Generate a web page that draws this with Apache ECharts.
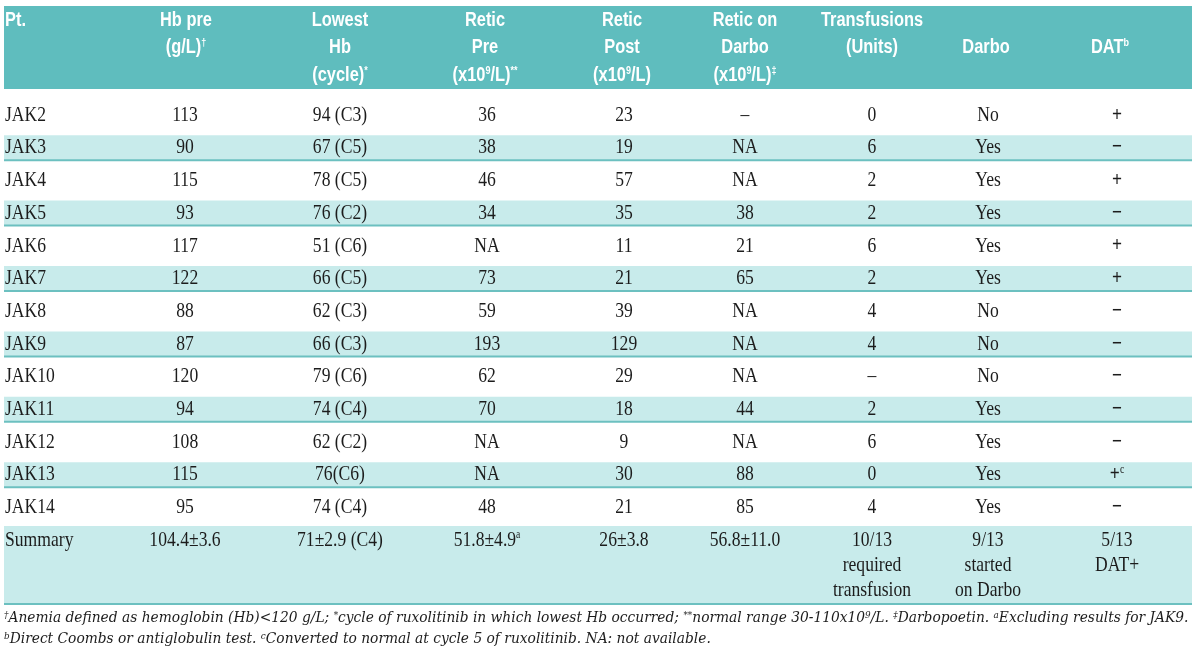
<!DOCTYPE html>
<html>
<head>
<meta charset="utf-8">
<title>Anemia table</title>
<script src="https://cdn.jsdelivr.net/npm/echarts@6/dist/echarts.min.js"></script>
<style>
    html, body { margin: 0; padding: 0; background: #fff; }
    #chart { width: 1200px; height: 654px; }
</style>
</head>
<body>
<div id="chart"></div>
<script>
// 表格数据
const patients = ['JAK2', 'JAK3', 'JAK4', 'JAK5', 'JAK6', 'JAK7', 'JAK8', 'JAK9', 'JAK10', 'JAK11', 'JAK12', 'JAK13', 'JAK14'];
const hbPre = ['113', '90', '115', '93', '117', '122', '88', '87', '120', '94', '108', '115', '95'];
const lowestHb = ['94 (C3)', '67 (C5)', '78 (C5)', '76 (C2)', '51 (C6)', '66 (C5)', '62 (C3)', '66 (C3)', '79 (C6)', '74 (C4)', '62 (C2)', '76(C6)', '74 (C4)'];
const reticPre = ['36', '38', '46', '34', 'NA', '73', '59', '193', '62', '70', 'NA', 'NA', '48'];
const reticPost = ['23', '19', '57', '35', '11', '21', '39', '129', '29', '18', '9', '30', '21'];
const reticDarbo = ['–', 'NA', 'NA', '38', '21', '65', 'NA', 'NA', 'NA', '44', 'NA', '88', '85'];
const transfusions = ['0', '6', '2', '2', '6', '2', '4', '4', '–', '2', '6', '0', '4'];
const darbo = ['No', 'Yes', 'Yes', 'Yes', 'Yes', 'Yes', 'No', 'No', 'No', 'Yes', 'Yes', 'Yes', 'Yes'];
const dat = ['+', '−', '+', '−', '+', '+', '−', '−', '−', '−', '−', '+{s|c}', '−'];

const summary = ['Summary', '104.4±3.6', '71±2.9 (C4)', '51.8±4.9{s|a}', '26±3.8', '56.8±11.0',
    '10/13\nrequired\ntransfusion', '9/13\nstarted\non Darbo', '5/13\nDAT+'];

const headers = [
    ['Pt.'],
    ['Hb pre', '(g/L){s|†}'],
    ['Lowest', 'Hb', '(cycle){s|*}'],
    ['Retic', 'Pre', '(x10{s|9}/L){s|**}'],
    ['Retic', 'Post', '(x10{s|9}/L)'],
    ['Retic on', 'Darbo', '(x10{s|9}/L){s|‡}'],
    ['Transfusions', '(Units)'],
    ['', 'Darbo'],
    ['', 'DAT{s|b}'],
];

const footnotes = [
    '{s|†}Anemia defined as hemoglobin (Hb)<120 g/L; {s|*}cycle of ruxolitinib in which lowest Hb occurred; {s|**}normal range 30-110x10{s|9}/L. {s|‡}Darbopoetin. {s|a}Excluding results for JAK9.',
    '{s|b}Direct Coombs or antiglobulin test. {s|c}Converted to normal at cycle 5 of ruxolitinib. NA: not available.',
];

// 版式
const colX = [5, 185, 340, 487, 624, 745, 872, 988, 1117];
const headX = [5, 186, 340, 485, 622, 745, 872, 986, 1110];
const tableLeft = 4;
const tableRight = 1192;
const rowY0 = 115;
const rowPitch = 32.7;
const summaryY0 = 540;
const summaryPitch = 25;

const teal = '#5fbdbe';
const lightTeal = '#c8ebeb';
const lineTeal = '#6cc0c0';
const textColor = '#1c1c1c';
const bodyFont = "'Liberation Serif', 'Times New Roman', serif";
const headFont = "'Liberation Sans', Arial, sans-serif";
const noteFont = "'DejaVu Serif', serif";

const columns = [patients, hbPre, lowestHb, reticPre, reticPost, reticDarbo, transfusions, darbo, dat];

const cellData = [];
const cellTexts = [];
patients.forEach((p, r) => {
    columns.forEach((col, c) => {
        cellData.push([c, r]);
        cellTexts.push(col[r]);
    });
});
summary.forEach((s, c) => {
    cellData.push([c, patients.length]);
    cellTexts.push(s);
});

// 底色条：-1 表头，奇数行，-2 汇总行
const bandData = [-1];
patients.forEach((p, r) => {
    if (r % 2 === 1) bandData.push(r);
});
bandData.push(-2);

function renderBand(params, api) {
    const r = api.value(0);
    let top, bottom, fill, line = true;
    if (r === -1) {
        top = 6; bottom = 89; fill = teal; line = false;
    } else if (r === -2) {
        top = 526; bottom = 604; fill = lightTeal;
    } else {
        top = rowY0 + r * rowPitch - 12.5;
        bottom = top + 25;
        fill = lightTeal;
    }
    const p1 = api.coord([tableLeft, top]);
    const p2 = api.coord([tableRight, bottom]);
    const children = [{
        type: 'rect',
        shape: { x: p1[0], y: p1[1], width: p2[0] - p1[0], height: p2[1] - p1[1] },
        style: { fill: fill },
    }];
    if (line) {
        children.push({
            type: 'line',
            shape: { x1: p1[0], y1: p2[1], x2: p2[0], y2: p2[1] },
            style: { stroke: lineTeal, lineWidth: 2 },
        });
    }
    return { type: 'group', children: children };
}

const bodyRich = {
    s: { fontFamily: bodyFont, fontSize: 12, lineHeight: 8, verticalAlign: 'top', fill: textColor },
};

function renderCell(params, api) {
    const c = api.value(0);
    const r = api.value(1);
    const lines = cellTexts[params.dataIndex].split('\n');
    const cy = r < patients.length ? rowY0 + r * rowPitch : summaryY0;
    // DAT 列的 +/− 在原图里较粗
    const weight = c === 8 && r < patients.length ? 'bold' : 'normal';
    const children = lines.map((text, k) => {
        const pt = api.coord([colX[c], cy + k * summaryPitch]);
        return {
            type: 'text',
            x: pt[0],
            y: pt[1],
            scaleX: 0.8,
            style: {
                text: text,
                x: 0,
                y: 0,
                align: c === 0 ? 'left' : 'center',
                verticalAlign: 'middle',
                fill: textColor,
                fontFamily: bodyFont,
                fontWeight: weight,
                fontSize: 22,
                lineHeight: 22,
                rich: bodyRich,
            },
        };
    });
    return { type: 'group', children: children };
}

const headRich = {
    s: { fontFamily: headFont, fontWeight: 'bold', fontSize: 11, lineHeight: 8, verticalAlign: 'top', fill: '#fff' },
};

function renderHead(params, api) {
    const c = api.value(0);
    const lines = headers[c];
    const children = [];
    lines.forEach((text, k) => {
        if (!text) return;
        const pt = api.coord([headX[c], 20 + k * 27.5]);
        children.push({
            type: 'text',
            x: pt[0],
            y: pt[1],
            scaleX: 0.82,
            style: {
                text: text,
                x: 0,
                y: 0,
                align: c === 0 ? 'left' : 'center',
                verticalAlign: 'middle',
                fill: '#fff',
                fontFamily: headFont,
                fontWeight: 'bold',
                fontSize: 20,
                lineHeight: 20,
                rich: headRich,
            },
        });
    });
    return { type: 'group', children: children };
}

const noteRich = {
    s: { fontFamily: noteFont, fontStyle: 'italic', fontSize: 9, lineHeight: 6, verticalAlign: 'top', fill: textColor },
};

const chart = echarts.init(document.getElementById('chart'));

const option = {
    animation: false,
    grid: { left: 0, right: 0, top: 0, bottom: 0 },
    xAxis: { type: 'value', min: 0, max: 1200, show: false },
    yAxis: { type: 'value', min: 0, max: 654, inverse: true, show: false },
    graphic: footnotes.map((text, k) => ({
        type: 'text',
        x: 4,
        y: 618 + k * 21,
        scaleX: 0.985,
        style: {
            text: text,
            verticalAlign: 'middle',
            fill: textColor,
            fontFamily: noteFont,
            fontStyle: 'italic',
            fontSize: 14,
            lineHeight: 14,
            rich: noteRich,
        },
    })),
    series: [
        {
            name: 'bands',
            type: 'custom',
            renderItem: renderBand,
            data: bandData.map((r) => [r]),
            encode: { y: 0 },
            silent: true,
            z: 1,
        },
        {
            name: 'header',
            type: 'custom',
            renderItem: renderHead,
            data: headers.map((h, c) => [c]),
            encode: { x: 0 },
            silent: true,
            z: 2,
        },
        {
            name: 'cells',
            type: 'custom',
            renderItem: renderCell,
            data: cellData,
            silent: true,
            z: 2,
        },
    ],
};

chart.setOption(option);
</script>
</body>
</html>
